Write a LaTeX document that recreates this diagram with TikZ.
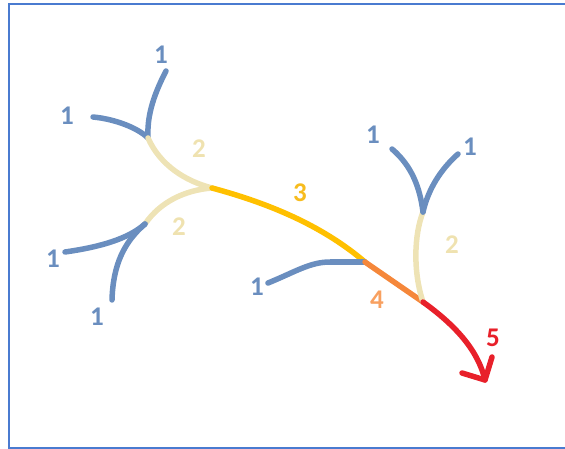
\documentclass[tikz,border=0pt]{standalone}
\usepackage{fontspec}
\setmainfont{Carlito}
\definecolor{cblue}{HTML}{6A8EBF}
\definecolor{cbeige}{HTML}{EEE3B5}
\definecolor{cyellow}{HTML}{FFC000}
\definecolor{corange}{HTML}{F5873A}
\definecolor{cred}{HTML}{E8202A}
\definecolor{cframe}{HTML}{4A7BD0}
\definecolor{lyellow}{HTML}{F7BC1E}
\definecolor{lorange}{HTML}{F8A060}
\definecolor{lbeige}{HTML}{EFE2B0}
\tikzset{
  stream/.style={line width=5.5pt, line cap=round, line join=round},
  lbl/.style={font=\fontsize{27}{27}\selectfont\bfseries, inner sep=0pt},
}
\begin{document}
\begin{tikzpicture}[x=1pt,y=-1pt]
\useasboundingbox (0,0) rectangle (565,449);
\draw[cframe, line width=2pt] (575,4.5) -- (8.5,4.5) -- (8.5,447.5) -- (575,447.5);
% junctions and ends
\coordinate (J1) at (148,138);
\coordinate (J2) at (212,188);
\coordinate (J3) at (145,224);
\coordinate (J4) at (365,262);
\coordinate (J5) at (423,302);
\coordinate (J6) at (423,212);
\coordinate (A1) at (166,71);
\coordinate (A2) at (93,117);
\coordinate (A3) at (65,252);
\coordinate (A4) at (112,300);
\coordinate (A5) at (268,283);
\coordinate (A6) at (392,149);
\coordinate (A7) at (458,154);
\coordinate (T) at (485,380);
\coordinate (H1) at (462,373);
\coordinate (H2) at (492,357);
% streams
\draw[stream, cblue] (A1) .. controls (152,98) and (147,118) .. (J1);
\draw[stream, cblue] (A2) .. controls (115,119) and (138,128) .. (J1);
\draw[stream, cbeige] (J1) .. controls (160,165) and (185,181) .. (J2);
\draw[stream, cbeige] (J2) .. controls (185,190) and (160,202) .. (J3);
\draw[stream, cblue] (A3) .. controls (100,247) and (128,239) .. (J3);
\draw[stream, cblue] (A4) .. controls (113,265) and (124,242) .. (J3);
\draw[stream, cyellow] (J2) .. controls (275,205) and (325,228) .. (J4);
\draw[stream, cblue] (A5) .. controls (295,272) and (310,262) .. (330,262) -- (J4);
\draw[stream, corange] (J4) -- (J5);
\draw[stream, cbeige] (J5) .. controls (413,272) and (414,235) .. (J6);
\draw[stream, cblue] (A6) .. controls (412,166) and (420,188) .. (J6);
\draw[stream, cblue] (A7) .. controls (440,170) and (428,190) .. (J6);
\draw[stream, cred] (J5) .. controls (455,325) and (478,350) .. (T);
\draw[stream, cred] (H1) -- (T) -- (H2);
% labels
\node[lbl, cblue] (l1) at (161,55) {1};
\node[lbl, cblue] (l2) at (67,116) {1};
\node[lbl, lbeige] (l3) at (199,149) {2};
\node[lbl, lbeige] (l4) at (179,227) {2};
\node[lbl, cblue] (l5) at (53,259) {1};
\node[lbl, cblue] (l6) at (97,317) {1};
\node[lbl, lyellow] (l7) at (300,193) {3};
\node[lbl, cblue] (l8) at (257,287) {1};
\node[lbl, lorange] (l9) at (377,300) {4};
\node[lbl, cred] (l10) at (493,338) {5};
\node[lbl, lbeige] (l11) at (452,245) {2};
\node[lbl, cblue] (l12) at (373,135) {1};
\node[lbl, cblue] (l13) at (470,147) {1};
\end{tikzpicture}
\end{document}
